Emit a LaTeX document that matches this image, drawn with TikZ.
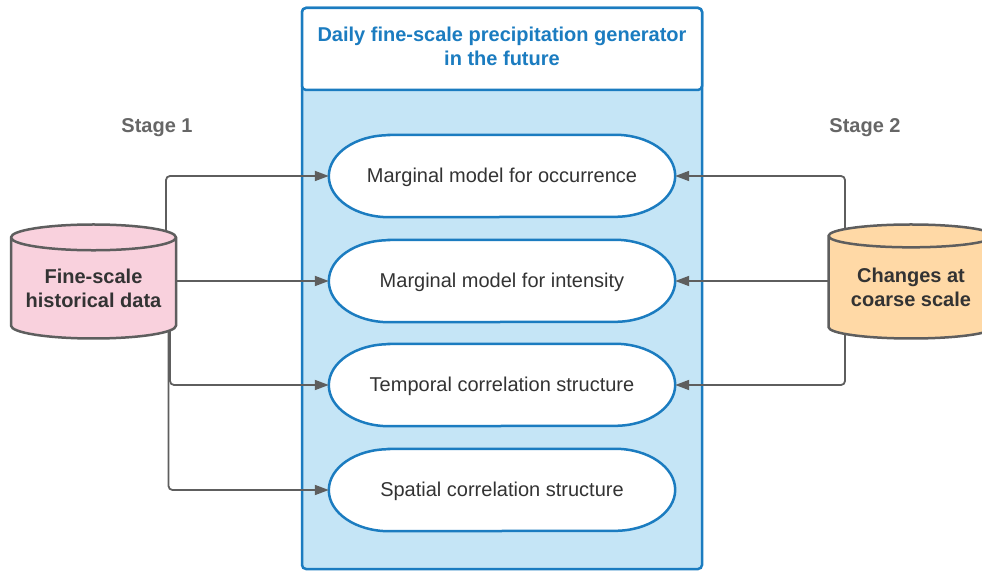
\documentclass[tikz,border=0pt]{standalone}
\usepackage{fontspec}
\setmainfont{Liberation Sans}
\usepackage{tikz}
\usetikzlibrary{shapes.geometric}
\usetikzlibrary{arrows.meta}

\definecolor{frameblue}{HTML}{1B7CC0}
\definecolor{boxfill}{HTML}{C5E5F6}
\definecolor{linegray}{HTML}{5E5E5E}
\definecolor{textgray}{HTML}{333333}
\definecolor{stagegray}{HTML}{666666}
\definecolor{pinkfill}{HTML}{F9D1DD}
\definecolor{orangefill}{HTML}{FFD9A6}

\begin{document}
\begin{tikzpicture}[
  x=1pt,y=1pt,
  container/.style={draw=frameblue,line width=2.5pt,rounded corners=4pt},
  header/.style={container,fill=white,minimum width=400pt,minimum height=82pt,inner sep=0pt},
  titletext/.style={align=center,text=frameblue,font=\fontsize{20}{24}\selectfont\bfseries},
  ovaltext/.style={minimum width=346pt,minimum height=82pt,inner sep=0pt,text=textgray,font=\fontsize{20}{24}\selectfont},
  ovalline/.style={draw=frameblue,line width=2.5pt,fill=white},
  datacyl/.style={cylinder,shape border rotate=90,aspect=0.19,anchor=shape center,draw=linegray,line width=2.5pt,minimum width=165pt,minimum height=114pt,inner sep=0pt,align=center,text=textgray,font=\fontsize{20}{24}\selectfont\bfseries},
  stagelabel/.style={text=stagegray,font=\fontsize{20}{24}\selectfont\bfseries},
  conn/.style={draw=linegray,line width=1.8pt,rounded corners=4pt,-{Triangle[length=14pt,width=10pt]}}
]
\useasboundingbox (0,0) rectangle (982,570);

% generator box
\draw[container,fill=boxfill] (302,1) rectangle (702,562);
\node[header] (hdr) at (502,521) {};
\node[titletext] (title) at ([yshift=3pt]hdr.center) {Daily fine-scale precipitation generator\\in the future};

% model components
\foreach \name/\ypos/\txt in {occ/394/Marginal model for occurrence,int/289/Marginal model for intensity,tmp/185/Temporal correlation structure,spa/80/Spatial correlation structure}{
  \node[ovaltext] (\name) at (502,\ypos) {};
  \draw[ovalline] ([xshift=60pt]\name.north west) -- ([xshift=-60pt]\name.north east)
    arc[start angle=90,end angle=-90,x radius=60pt,y radius=41pt]
    -- ([xshift=60pt]\name.south west)
    arc[start angle=270,end angle=90,x radius=60pt,y radius=41pt] -- cycle;
  \node[ovaltext] (\name-txt) at ([yshift=-1.5pt]\name.center) {\txt};
}

% stage 1
\node[stagelabel] (s1) at (157,442) {Stage 1};
\coordinate (fine-c) at (93.5,288.5);
\draw[conn] ([xshift=72.5pt]fine-c) |- (occ.west);
\draw[conn] (fine-c |- int.west) -- (int.west);
\draw[conn] ([xshift=76.5pt]fine-c) |- (tmp.west);
\draw[conn] ([xshift=75pt]fine-c) |- (spa.west);
\node[datacyl,fill=pinkfill] (fine) at (fine-c) {Fine-scale\\historical data};

% stage 2
\node[stagelabel] (s2) at (865,442) {Stage 2};
\coordinate (coarse-c) at (911,288.5);
\draw[conn] ([xshift=-66pt]coarse-c) |- (occ.east);
\draw[conn] (coarse-c |- int.east) -- (int.east);
\draw[conn] ([xshift=-66pt]coarse-c) |- (tmp.east);
\node[datacyl,fill=orangefill] (coarse) at (coarse-c) {Changes at\\coarse scale};

\end{tikzpicture}
\end{document}
